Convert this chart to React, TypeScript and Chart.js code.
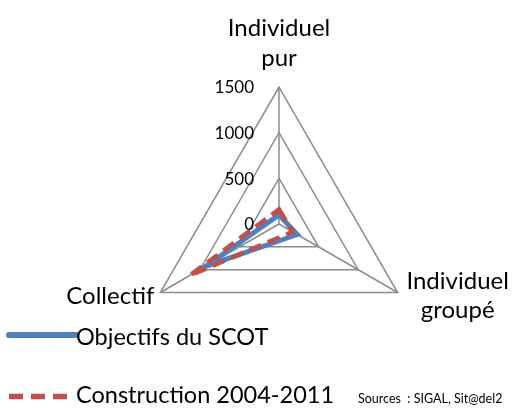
import React, { useEffect, useRef } from "react";
import { Chart, registerables } from "chart.js";

Chart.register(...registerables);

const categories: string[][] = [["Individuel", "pur"], ["Individuel", "groupé"], ["Collectif"]];
const scotValues = [100, 230, 930];
const constructionValues = [160, 170, 1130];
const seriesNames = ["Objectifs du SCOT", "Construction 2004-2011"];
const tickValues = [0, 500, 1000, 1500];
const sourceText = "Sources  : SIGAL, Sit@del2";

const FONT = "Lato, 'Open Sans', sans-serif";

// placement of each axis title relative to its outer vertex: [dx, first baseline dy, align]
const labelPlacement: [number, number, CanvasTextAlign][] = [
  [0, -51, "center"],
  [60, -4, "center"],
  [-6, 11, "right"],
];
const LABEL_LINE = 29.5;

const overlayPlugin = {
  id: "overlay",
  afterDatasetsDraw(chart: any) {
    const ctx = chart.ctx;
    const scale = chart.scales.r;
    ctx.save();
    ctx.fillStyle = "#000";

    // axis titles
    ctx.font = `24px ${FONT}`;
    ctx.textBaseline = "alphabetic";
    (chart.data.labels as string[][]).forEach((lines, i) => {
      const p = scale.getPointPosition(i, scale.drawingArea);
      const [dx, dy, align] = labelPlacement[i];
      ctx.textAlign = align;
      lines.forEach((line, k) => {
        ctx.fillText(line, p.x + dx, p.y + dy + k * LABEL_LINE);
      });
    });

    // tick labels, left of the vertical axis
    ctx.font = `17px ${FONT}`;
    ctx.textAlign = "right";
    ctx.textBaseline = "middle";
    tickValues.forEach((v) => {
      const d = scale.getDistanceFromCenterForValue(v);
      ctx.fillText(String(v), scale.xCenter - 25, scale.yCenter - d + 1);
    });

    // legend
    ctx.textAlign = "left";
    ctx.textBaseline = "alphabetic";
    ctx.font = `23.5px ${FONT}`;
    const rows = [
      { line: 335, base: 345, end: 76 },
      { line: 396.5, base: 403, end: 68 },
    ];
    chart.data.datasets.forEach((ds: any, i: number) => {
      const r = rows[i];
      ctx.save();
      ctx.strokeStyle = ds.borderColor;
      ctx.lineWidth = ds.borderWidth + 1;
      ctx.setLineDash(ds.borderDash ? [14, 8] : []);
      ctx.lineCap = ds.borderDash ? "butt" : "round";
      ctx.beginPath();
      ctx.moveTo(9, r.line);
      ctx.lineTo(r.end, r.line);
      ctx.stroke();
      ctx.restore();
      ctx.fillStyle = "#000";
      ctx.fillText(ds.label, 76, r.base);
    });

    // source
    ctx.font = `12.5px ${FONT}`;
    ctx.fillText(sourceText, 358, 403);
    ctx.restore();
  },
};

export default function App() {
  const ref = useRef<HTMLCanvasElement>(null);
  useEffect(() => {
    if (!ref.current) return;
    const chart = new Chart(ref.current, {
      type: "radar",
      data: {
        labels: categories,
        datasets: [
          {
            label: seriesNames[0],
            data: scotValues,
            borderColor: "#4F81BD",
            backgroundColor: "rgba(0,0,0,0)",
            borderWidth: 5,
            pointRadius: 0,
            fill: false,
            order: 1,
          },
          {
            label: seriesNames[1],
            data: constructionValues,
            borderColor: "#C0504D",
            backgroundColor: "rgba(0,0,0,0)",
            borderWidth: 4.5,
            borderDash: [13, 7],
            pointRadius: 0,
            fill: false,
            order: 0,
          },
        ],
      },
      options: {
        animation: false,
        responsive: true,
        maintainAspectRatio: false,
        layout: { padding: { left: 142, right: 99, top: 87, bottom: 47 } },
        plugins: {
          legend: { display: false },
          tooltip: { enabled: false },
        },
        elements: { line: { tension: 0 } },
        scales: {
          r: {
            min: 0,
            max: 1500,
            ticks: { stepSize: 500, display: false },
            grid: { color: "#8c8c8c", lineWidth: 1.5 },
            angleLines: { color: "#8c8c8c", lineWidth: 1.5 },
            pointLabels: { display: false },
          },
        },
      },
      plugins: [overlayPlugin],
    });
    return () => chart.destroy();
  }, []);
  return (
    <div style={{ position: "fixed", left: 0, top: 0, width: 515, height: 408, background: "#fff" }}>
      <canvas ref={ref} />
    </div>
  );
}
